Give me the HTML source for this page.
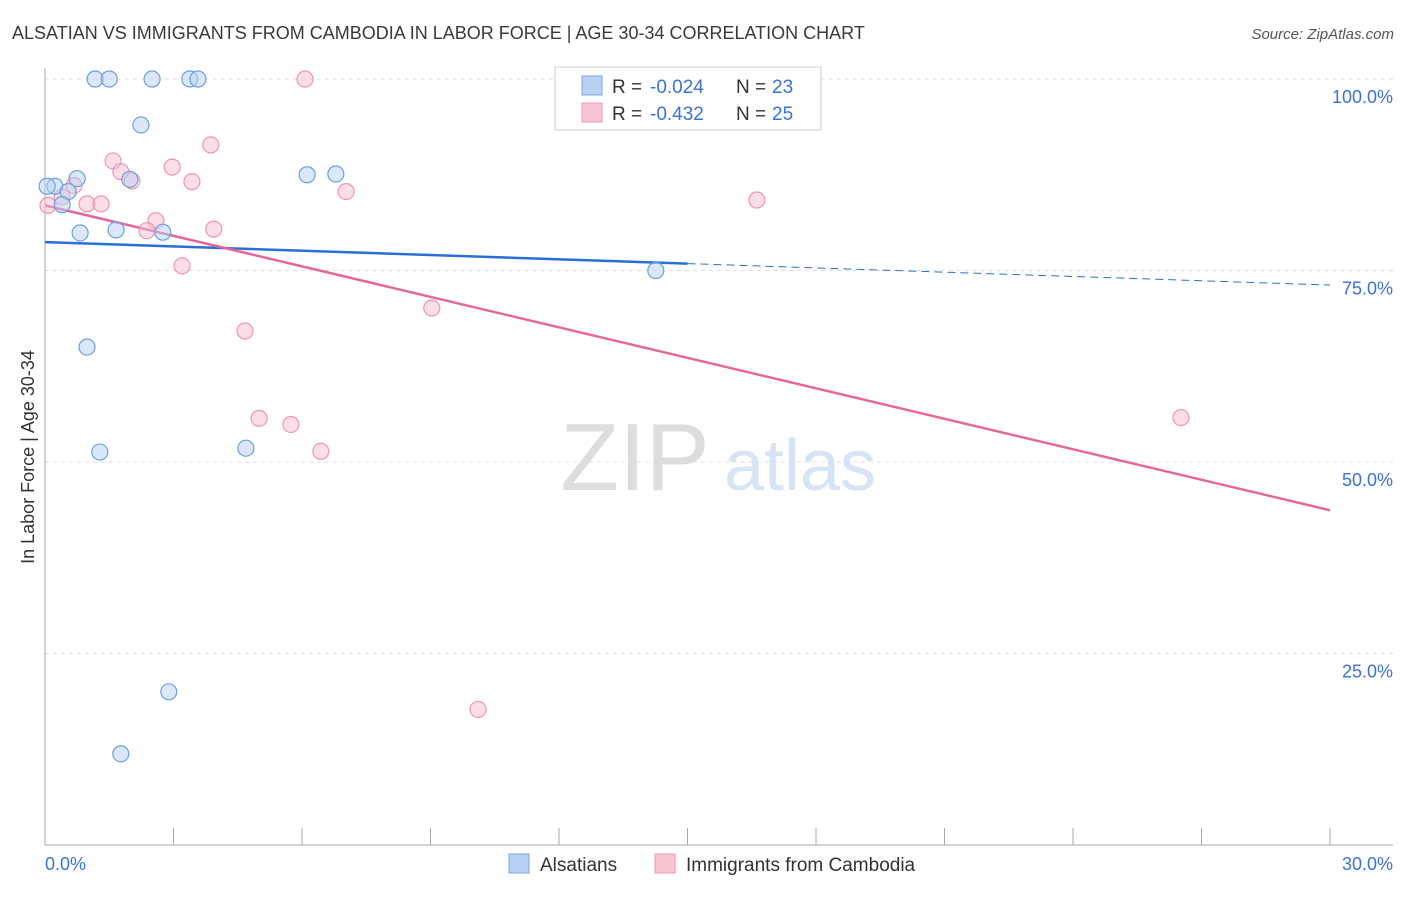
<!DOCTYPE html>
<html><head><meta charset="utf-8"><style>
body{margin:0;background:#fff;font-family:"Liberation Sans",sans-serif;}
svg text{font-family:"Liberation Sans",sans-serif;}
</style></head><body>
<svg width="1406" height="892" xmlns="http://www.w3.org/2000/svg">
<text x="12" y="39" font-size="18" fill="#3a3a3a">ALSATIAN VS IMMIGRANTS FROM CAMBODIA IN LABOR FORCE | AGE 30-34 CORRELATION CHART</text>
<text x="1394" y="39" font-size="15" fill="#555" font-style="italic" text-anchor="end">Source: ZipAtlas.com</text>
<g>
<text x="635" y="490" font-size="96" fill="#ddd" font-family="Liberation Serif" text-anchor="middle">ZIP</text>
<text x="800" y="490" font-size="72" fill="#d6e4f5" text-anchor="middle">atlas</text>
</g>
<g id="grid"></g>
<g id="axes"></g>
<g id="lines"></g>
<g id="pts"></g>
<g>
<rect x="555" y="67" width="266" height="63" fill="#fff" stroke="#ccc"/>
<rect x="582" y="76" width="20" height="19" fill="#b8d1f3" stroke="#7aa6e0"/>
<text x="612" y="93" font-size="19" fill="#333">R =</text>
<text x="650" y="93" font-size="19" fill="#3a72d6">-0.024</text>
<text x="736" y="93" font-size="19" fill="#333">N =</text>
<text x="772" y="93" font-size="19" fill="#3a72d6">23</text>
<rect x="582" y="103" width="20" height="19" fill="#f8c6d4" stroke="#ee96b1"/>
<text x="612" y="120" font-size="19" fill="#333">R =</text>
<text x="650" y="120" font-size="19" fill="#3a72d6">-0.432</text>
<text x="736" y="120" font-size="19" fill="#333">N =</text>
<text x="772" y="120" font-size="19" fill="#3a72d6">25</text>
</g>
<g>
<rect x="509" y="854" width="20" height="19" fill="#b8d1f3" stroke="#7aa6e0"/>
<text x="540" y="871" font-size="19" fill="#333">Alsatians</text>
<rect x="655" y="854" width="20" height="19" fill="#f8c6d4" stroke="#ee96b1"/>
<text x="686" y="871" font-size="19" fill="#333">Immigrants from Cambodia</text>
</g>
<text transform="translate(34,457) rotate(-90)" font-size="18" fill="#333" text-anchor="middle">In Labor Force | Age 30-34</text>
</svg>
<script>
const blueX=[1.17,1.5,2.5,3.38,3.57,2.24,0.75,0.23,0.05,0.54,0.4,1.98,6.12,6.79,0.82,1.66,2.75,14.26,0.98,1.28,4.69,2.89,1.77];
const blueY=[100,100,100,100,100,94,87,86,86,85.3,83.6,86.9,87.5,87.6,79.9,80.3,80.0,75,65,51.3,51.8,20,11.9];
const pinkX=[6.07,3.87,1.59,2.97,1.77,2.03,3.43,0.68,7.03,16.62,0.07,0.98,1.31,0.4,2.59,2.38,3.94,3.2,9.03,4.67,5.0,5.74,6.44,26.52,10.11];
const pinkY=[100,91.4,89.3,88.5,87.9,86.7,86.6,86.1,85.3,84.2,83.5,83.7,83.7,84.6,81.5,80.2,80.4,75.6,70.1,67.1,55.7,54.9,51.4,55.8,17.7];
const yTicks=[100,75,50,25];
const yTickLabels=["100.0%","75.0%","50.0%","25.0%"];
const xEndLabels=["0.0%","30.0%"];
const blueTrend=[78.7,73.1];
const pinkTrend=[83.5,43.7];
const blueSolidEnd=15;
const X=v=>45+v/30*1285, Y=v=>845-v/100*766;
const NS="http://www.w3.org/2000/svg";
function mk(p,t,a){const e=document.createElementNS(NS,t);for(const k in a)e.setAttribute(k,a[k]);p.appendChild(e);return e;}
const grid=document.getElementById('grid'),axes=document.getElementById('axes'),lines=document.getElementById('lines'),pts=document.getElementById('pts');
yTicks.forEach((t,i)=>{
 const l=mk(grid,'line',{x1:45,x2:1393,y1:Y(t),y2:Y(t),stroke:'#ddd','stroke-dasharray':'4,4'});
 
 
 const tx=mk(axes,'text',{x:1393,y:Y(t)+24,'font-size':18,fill:'#3a72d6','text-anchor':'end'});
 tx.textContent=yTickLabels[i];
 
 
});
const ya=mk(axes,'line',{x1:45,x2:45,y1:68,y2:845,stroke:'#aaa'});


const xa=mk(axes,'line',{x1:45,x2:1393,y1:845,y2:845,stroke:'#aaa'});


for(let i=1;i<=10;i++){const t=mk(axes,'line',{x1:X(i*3),x2:X(i*3),y1:828,y2:845,stroke:'#aaa'});
 
 }
[[0,'start',45],[30,'end',1393]].forEach((d,i)=>{const t=mk(axes,'text',{x:d[2],y:870,'font-size':18,fill:'#3a72d6','text-anchor':d[1]});t.textContent=xEndLabels[i];
 
 });
const bAt=x=>blueTrend[0]+(blueTrend[1]-blueTrend[0])*x/30;
let l1=mk(lines,'line',{x1:X(0),y1:Y(bAt(0)),x2:X(blueSolidEnd),y2:Y(bAt(blueSolidEnd)),stroke:'#2b6fd6','stroke-width':2.5});


let l2=mk(lines,'line',{x1:X(blueSolidEnd),y1:Y(bAt(blueSolidEnd)),x2:X(30),y2:Y(bAt(30)),stroke:'#2b6fd6','stroke-width':1,'stroke-dasharray':'8,5'});


let l3=mk(lines,'line',{x1:X(0),y1:Y(pinkTrend[0]),x2:X(30),y2:Y(pinkTrend[1]),stroke:'#e5679a','stroke-width':2.5});


pinkX.forEach((x,i)=>{const c=mk(pts,'circle',{cx:X(x),cy:Y(pinkY[i]),r:8,fill:'rgba(248,190,208,0.5)',stroke:'#ee96b1','stroke-width':1.2});
 
 });
blueX.forEach((x,i)=>{const c=mk(pts,'circle',{cx:X(x),cy:Y(blueY[i]),r:8,fill:'rgba(184,209,243,0.5)',stroke:'#6e9ee0','stroke-width':1.2});
 
 });
</script>
</body></html>
